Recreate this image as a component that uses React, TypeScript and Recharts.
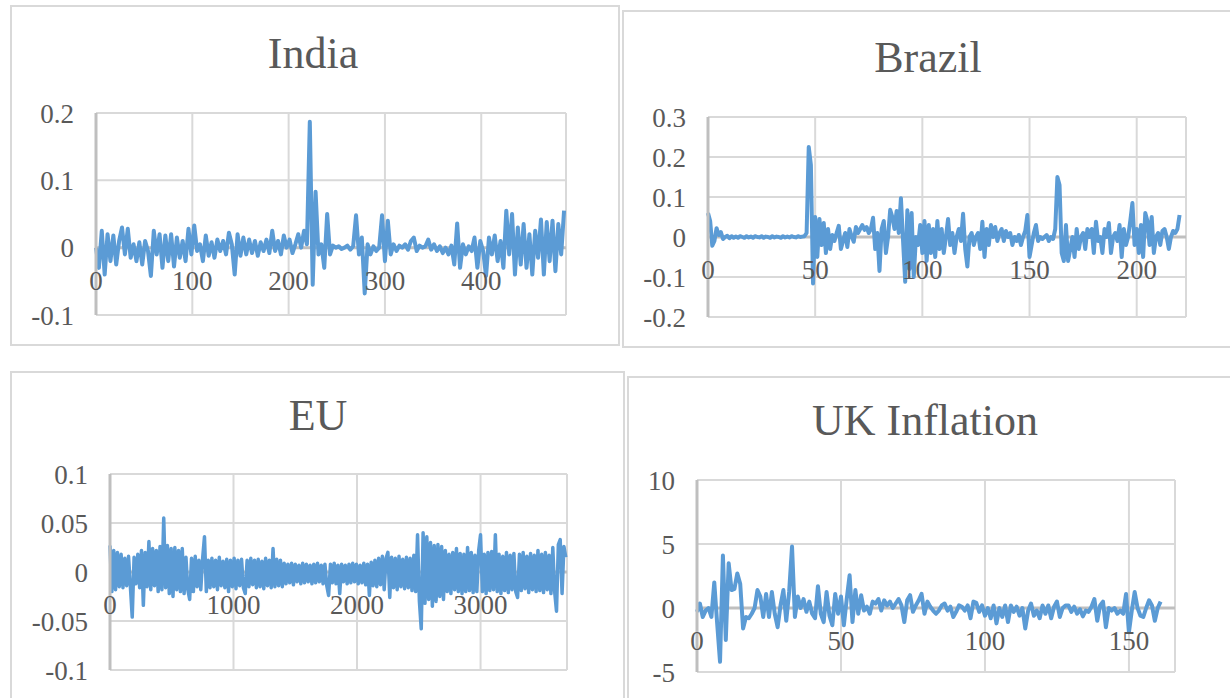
import React from "react";
import { LineChart, Line, XAxis, YAxis, CartesianGrid, ReferenceLine } from "recharts";

const LINE = "#5b9bd5";
const GRID = "#d9d9d9";
const AXIS = "#bfbfbf";
const TEXT = "#595959";
const FONT = '"Liberation Serif", serif';
const TICK_SIZE = 27;

// India: one reading every 3 steps
const indiaStep = 3;
const indiaValues = [
  0, -0.03, 0.025, -0.04, 0.02, -0.02, 0.018, -0.025, 0.01, 0.03,
  -0.01, 0.028, -0.015, 0.005, -0.02, 0.008, -0.025, 0.01, -0.005, -0.042,
  0.025, -0.01, 0.02, -0.03, 0.018, -0.02, 0.02, -0.028, 0.015, -0.015,
  0.01, -0.02, 0.028, -0.01, 0.033, -0.005, 0.005, -0.02, 0.018, -0.012,
  0.008, -0.015, 0.012, -0.005, 0.01, -0.01, 0.022, 0.005, -0.04, 0.02,
  -0.012, 0.015, -0.01, 0.012, -0.008, 0.01, -0.012, 0.008, -0.005, 0.012,
  -0.008, 0.025, -0.005, 0.01, -0.01, 0.018, 0, 0.012, -0.008, 0.005,
  0.02, 0, 0.025, 0.005, 0.187, -0.055, 0.083, -0.01, 0.005, -0.03,
  0.05, -0.01, 0.003, 0, 0.002, -0.002, 0, 0.003, -0.003, 0.002,
  0.048, -0.01, 0.015, -0.068, 0.005, -0.01, 0.002, -0.005, 0, 0.048,
  -0.02, 0.04, -0.01, 0.005, -0.005, 0.003, 0, 0.005, -0.003, 0.01,
  0.015, -0.005, 0.003, 0, 0.002, 0.012, -0.003, 0.005, -0.005, 0.002,
  -0.008, 0, -0.01, 0.003, -0.025, 0.036, -0.03, 0.005, -0.01, 0.002,
  -0.005, 0.015, -0.03, 0.01, -0.005, -0.042, 0.015, -0.01, 0.018, -0.02,
  0.01, -0.03, 0.055, -0.01, 0.05, -0.04, 0.03, -0.025, 0.035, -0.03,
  0.02, -0.04, 0.025, -0.015, 0.042, -0.04, 0.038, -0.02, 0.04, -0.035,
  0.035, -0.01, 0.055,
];
const indiaXTicks = [0, 100, 200, 300, 400];
const indiaYTicks = [-0.1, 0, 0.1, 0.2];

// Brazil: one reading per step
const brazilStep = 1;
const brazilValues = [
  0.06, 0.04, -0.022, -0.01, 0.022, 0.005, 0.012, -0.005, 0, 0.003,
  -0.003, 0.002, -0.002, 0.001, -0.002, 0.002, 0, -0.002, 0.002, -0.001,
  0.001, -0.002, 0.002, 0, -0.001, 0.002, -0.002, 0.001, 0, -0.002,
  0.002, -0.001, 0.001, 0, -0.002, 0.002, -0.001, 0.001, -0.001, 0.002,
  0, -0.001, 0.002, 0, 0.001, 0.002, 0.01, 0.225, 0.18, -0.116,
  0.05, -0.05, 0.045, -0.02, 0.035, -0.04, 0.02, -0.03, 0.005, -0.01,
  0.01, 0.028, -0.03, -0.01, 0.01, -0.025, 0.02, 0.002, -0.012, 0.025,
  0.01, 0.02, 0.03, 0.018, 0.025, 0.01, 0.02, 0.048, -0.03, 0.01,
  -0.085, 0.02, 0.04, -0.04, 0, 0.068, 0.05, 0.02, 0.065, 0.01,
  0.097, -0.01, -0.112, 0.067, -0.08, 0.06, -0.1, 0, -0.02, 0.03,
  -0.04, 0.04, -0.06, 0.03, -0.04, 0.02, -0.05, 0.04, -0.03, 0.02,
  -0.04, 0, 0.045, -0.02, 0.01, -0.04, 0, 0.02, -0.01, 0.058,
  -0.03, -0.074, 0, 0.01, -0.02, 0, 0.01, -0.03, 0.038, -0.05,
  0.02, -0.02, 0.03, 0, 0.025, -0.01, 0.01, 0.02, -0.01, 0.015,
  0, 0.01, -0.02, 0, -0.01, 0.005, -0.02, 0, 0.015, 0.055,
  -0.05, -0.02, 0.01, 0.03, -0.01, 0, -0.005, 0, 0.005, -0.01,
  0, -0.005, 0.02, 0.15, 0.13, -0.04, -0.06, 0.03, -0.06, -0.03,
  0, -0.05, 0.02, -0.03, 0, 0.01, -0.03, 0.02, 0, 0.02,
  -0.04, 0.038, -0.01, 0, -0.04, 0.02, 0, 0.035, -0.04, 0,
  0.01, -0.01, 0.03, -0.05, 0.02, -0.02, 0, 0.04, 0.085, -0.02,
  0.02, -0.04, 0.03, -0.05, 0.06, 0.04, -0.02, 0.05, -0.04, 0,
  0.01, -0.02, 0.015, 0.02, 0, -0.03, 0, 0.015, 0.01, 0.02,
  0.055,
];
const brazilXTicks = [0, 50, 100, 150, 200];
const brazilYTicks = [-0.2, -0.1, 0, 0.1, 0.2, 0.3];

// EU: one reading every 15 steps, stored in thousandths
const euStep = 15;
const euPerMille = [
  27, -20, 22, -18, 20, -15, 18, -16, 14, -14,
  16, -15, -46, 15, -12, 18, -16, 22, -34, 20,
  -15, 31, -18, 24, -14, 22, -20, 26, -18, 55,
  -16, 27, -22, 24, -25, 25, -18, 22, -20, 24,
  -22, 15, -18, -28, 14, -20, 16, -15, 12, -18,
  14, 36, -20, 12, -16, 14, -15, 12, -18, 15,
  -14, 11, -16, 13, -20, 12, -15, 14, -17, 12,
  -14, 13, -16, -22, 12, -15, 14, -13, 12, -16,
  13, -15, 11, -17, 14, -14, 12, -16, 24, -15,
  13, -14, 12, -15, 9, -12, 8, -11, 9, -13,
  8, -10, 7, -12, 9, -11, 8, -10, 7, -12,
  8, -11, 9, -10, 7, -12, 8, -14, -24, 8,
  -11, 9, -12, 7, -22, 8, -10, 7, -12, 8,
  -11, 9, -10, 8, -12, 7, -11, 9, -13, 8,
  -24, 10, -14, 12, -15, 14, -13, 16, -18, 14,
  20, -26, 15, -16, 14, -18, 16, -15, 13, -17,
  15, -16, 14, -19, 17, -20, 38, -30, -58, 40,
  -32, 36, -28, 30, -35, 27, -30, 28, -25, 26,
  -28, 22, -20, 18, -22, 20, -18, 24, -20, 19,
  -22, 18, -20, 25, -19, 20, -21, 17, -20, 22,
  38, -20, 18, -22, 20, -19, 21, -18, 38, -20,
  18, -22, 16, -19, 20, -21, 17, -18, 19, -20,
  -26, 18, -19, 20, -17, 16, -21, 19, -18, 17,
  -20, 22, -19, 18, -21, 20, -18, 17, -22, 25,
  -20, -40, 28, 33, -22, 26, 15,
];
const euXTicks = [0, 1000, 2000, 3000];
const euYTicks = [-0.1, -0.05, 0, 0.05, 0.1];

// UK inflation: one reading per step
const ukStep = 1;
const ukValues = [
  -0.3, 0.35, -0.7, -0.2, 0, -0.7, 2.0, -1.2, -4.2, 4.1,
  -2.5, 3.5, 1.4, 1.5, 2.7, 1.9, -1.6, -0.7, -0.8, -0.45,
  0, 1.4, 0.9, -0.7, 1.1, -0.7, 1.25, -0.45, -1.5, 0.2,
  1.4, -1.0, 1.25, 4.8, -0.7, 0.9, 0, 0.7, -0.3, 0.5,
  -0.45, -0.8, 1.7, -0.45, -1.1, 1.25, -0.6, -1.35, 1.1, -0.45,
  0.9, -1.35, 0.7, 2.55, -1.1, 1.4, -0.45, 1.0, -0.2, 0.1,
  -0.45, 0.5, 0.35, 0.7, -0.2, 0.6, 0.2, 0.5, 0, 0.35,
  0.7, 0.2, -1.1, 0.6, 1.0, -0.3, 0.2, 0.6, 1.1, -0.45,
  0.5, 0.1, -0.2, -0.45, -0.2, 0.2, 0.35, -0.2, 0.1, -0.7,
  -0.3, 0.2, 0.1, -0.2, 0.2, -0.8, 0.5, 0.4, -0.3, 0.2,
  -0.6, 0, -0.8, 0.2, -1.2, 0, -0.7, 0.2, -1.1, 0.2,
  -0.3, 0.1, -0.6, 0, -1.6, -0.2, 0.35, -0.6, -0.2, -0.8,
  0.2, -0.45, 0.2, -0.8, 0.1, 0.5, -0.7, 0, 0.2, 0.2,
  -0.3, 0.1, -0.45, -0.1, -0.65, -0.2, -0.3, 0.1, 0.7, -1.0,
  0.2, 0.5, -1.5, 0, -0.2, 0, -0.45, -0.2, -0.45, 1.1,
  -1.9, -0.2, 1.25, 0, -0.6, -0.7, 0, 0.6, 0.2, -1.0,
  0, 0.5,
];
const ukXTicks = [0, 50, 100, 150];
const ukYTicks = [-5, 0, 5, 10];

type Row = { x: number; v: number };
const toRows = (values: number[], step: number, scale = 1): Row[] =>
  values.map((v, i) => ({ x: i * step, v: v * scale }));

type Rect = { l: number; t: number; r: number; b: number };

type PanelProps = {
  rows: Row[];
  xMax: number;
  xTicks: number[];
  yTicks: number[];
  plot: Rect;
  box: { l: number; t: number; w: number; h: number };
  strokeWidth: number;
};

const PAD_L = 100;
const PAD_T = 20;
const PAD_R = 10;
const PAD_B = 30;

function Panel({ rows, xMax, xTicks, yTicks, plot, box, strokeWidth }: PanelProps) {
  const yMin = yTicks[0];
  const yMax = yTicks[yTicks.length - 1];
  const plotH = plot.b - plot.t;
  const width = plot.r - plot.l + PAD_L + PAD_R;
  const height = plotH + PAD_T + PAD_B;
  // x labels sit just under the zero line, where the value axis crosses
  const zeroY = PAD_T + (plotH * yMax) / (yMax - yMin);

  const XTick = (p: any) => (
    <text
      x={p.x}
      y={zeroY + 33}
      dy="0.35em"
      textAnchor="middle"
      fill={TEXT}
      fontSize={TICK_SIZE}
      fontFamily={FONT}
    >
      {p.payload.value}
    </text>
  );

  return (
    <>
      <div
        style={{
          position: "absolute",
          left: box.l,
          top: box.t,
          width: box.w,
          height: box.h,
          border: `2px solid ${GRID}`,
          boxSizing: "border-box",
          background: "#fff",
        }}
      />
      <div style={{ position: "absolute", left: plot.l - PAD_L, top: plot.t - PAD_T }}>
        <LineChart
          width={width}
          height={height}
          data={rows}
          margin={{ top: PAD_T, right: PAD_R, bottom: 0, left: 0 }}
          style={{ overflow: "visible" }}
        >
          <CartesianGrid stroke={GRID} strokeWidth={2} />
          <XAxis
            dataKey="x"
            type="number"
            domain={[0, xMax]}
            ticks={xTicks}
            interval={0}
            height={PAD_B}
            axisLine={false}
            tickLine={false}
            tick={XTick}
          />
          <YAxis
            type="number"
            domain={[yMin, yMax]}
            ticks={yTicks}
            interval={0}
            width={PAD_L}
            axisLine={{ stroke: AXIS, strokeWidth: 3 }}
            tickLine={false}
            tickMargin={16}
            tick={{ fill: TEXT, fontSize: TICK_SIZE, fontFamily: FONT }}
            allowDataOverflow
          />
          <ReferenceLine y={0} stroke={AXIS} strokeWidth={3} />
          <Line
            type="linear"
            dataKey="v"
            stroke={LINE}
            strokeWidth={strokeWidth}
            strokeLinejoin="round"
            dot={false}
            isAnimationActive={false}
          />
        </LineChart>
      </div>
    </>
  );
}

const titles = [
  { text: "India", x: 313, y: 68 },
  { text: "Brazil", x: 928, y: 72 },
  { text: "EU", x: 318, y: 430 },
  { text: "UK Inflation", x: 925, y: 435 },
];

export default function App() {
  return (
    <div
      style={{
        position: "absolute",
        left: 0,
        top: 0,
        width: 1230,
        height: 698,
        overflow: "hidden",
        background: "#fff",
      }}
    >
      <Panel
        rows={toRows(indiaValues, indiaStep)}
        xMax={488}
        xTicks={indiaXTicks}
        yTicks={indiaYTicks}
        plot={{ l: 96, t: 113, r: 566, b: 315 }}
        box={{ l: 10, t: 5, w: 610, h: 341 }}
        strokeWidth={4}
      />
      <Panel
        rows={toRows(brazilValues, brazilStep)}
        xMax={223}
        xTicks={brazilXTicks}
        yTicks={brazilYTicks}
        plot={{ l: 708, t: 117, r: 1186, b: 317 }}
        box={{ l: 622, t: 10, w: 620, h: 338 }}
        strokeWidth={4}
      />
      <Panel
        rows={toRows(euPerMille, euStep, 0.001)}
        xMax={3700}
        xTicks={euXTicks}
        yTicks={euYTicks}
        plot={{ l: 110, t: 474, r: 567, b: 670 }}
        box={{ l: 10, t: 371, w: 615, h: 340 }}
        strokeWidth={3.5}
      />
      <Panel
        rows={toRows(ukValues, ukStep)}
        xMax={166}
        xTicks={ukXTicks}
        yTicks={ukYTicks}
        plot={{ l: 697, t: 480, r: 1175, b: 672 }}
        box={{ l: 627, t: 376, w: 610, h: 330 }}
        strokeWidth={4}
      />
      <svg
        width={1230}
        height={698}
        style={{ position: "absolute", left: 0, top: 0, pointerEvents: "none" }}
      >
        {titles.map((t) => (
          <text
            key={t.text}
            x={t.x}
            y={t.y}
            textAnchor="middle"
            fill={TEXT}
            fontSize={44}
            fontFamily={FONT}
          >
            {t.text}
          </text>
        ))}
      </svg>
    </div>
  );
}
